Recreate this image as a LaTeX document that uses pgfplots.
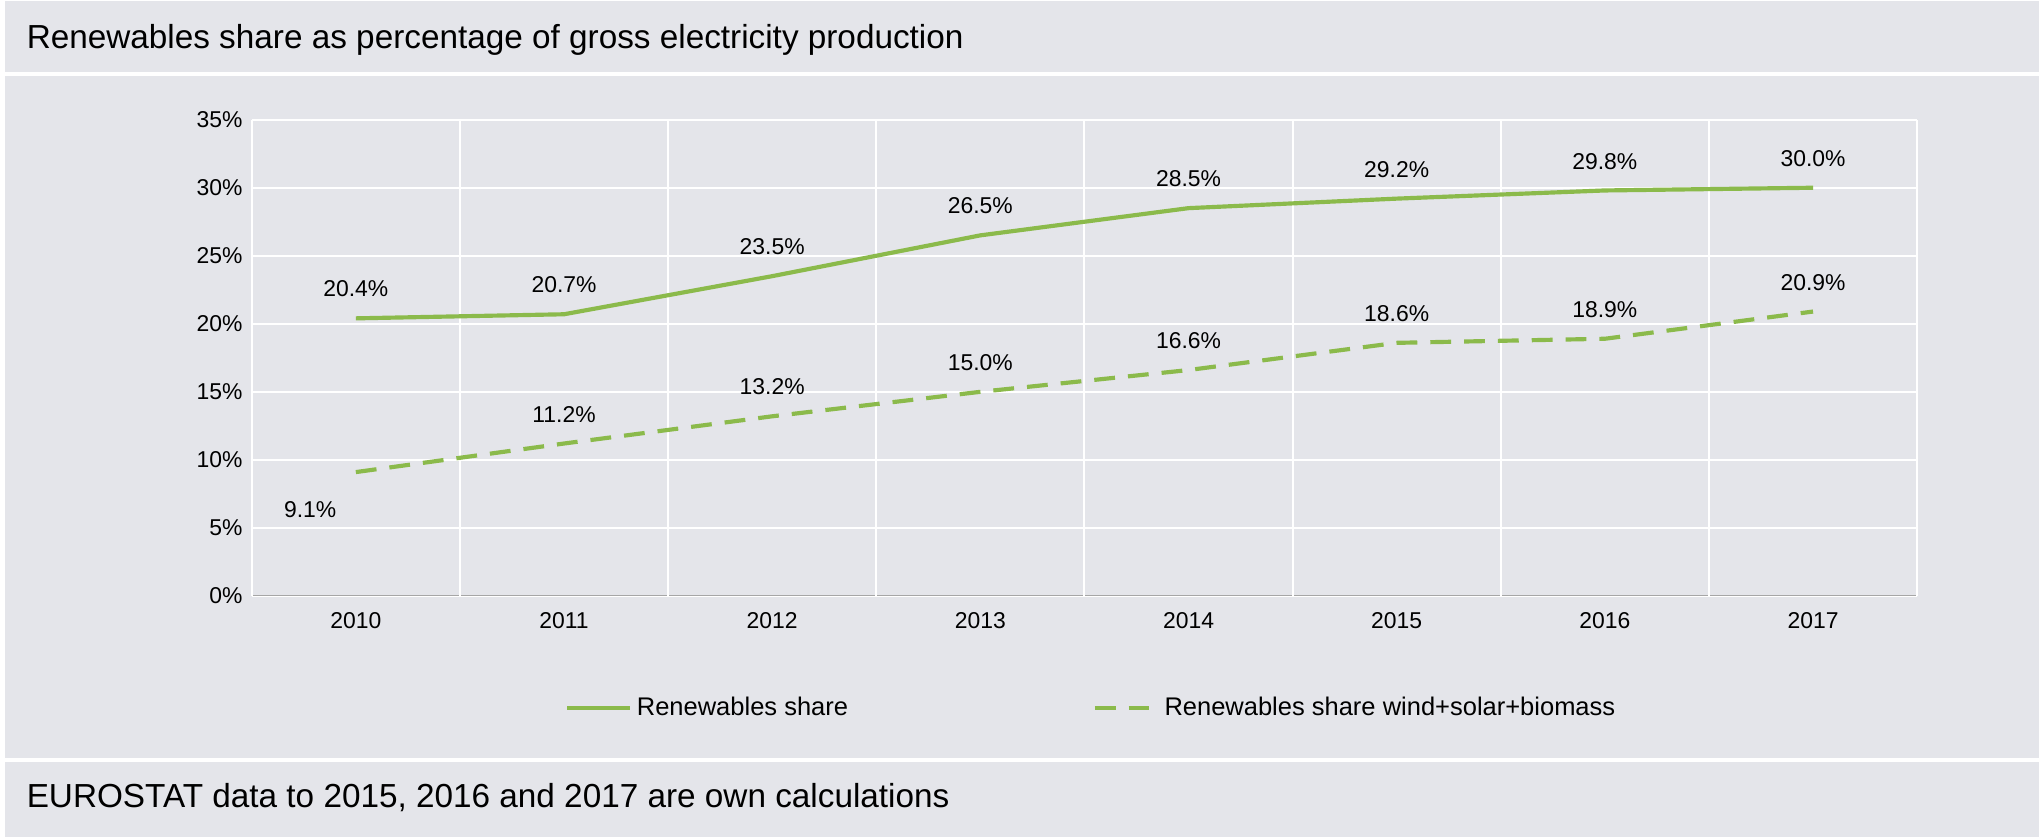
\documentclass[border=0pt]{standalone}
\usepackage{pgfplots}
\pgfplotsset{compat=1.18}
\usepackage{fontspec}
\setmainfont{Liberation Sans}
\definecolor{bg}{HTML}{E4E5EA}
\definecolor{gr}{HTML}{8BBA4B}
\begin{document}
\begin{tikzpicture}
\fill[bg] (0,0) rectangle (784pt,321pt);
\draw[white,line width=1.5pt] (0,293pt) -- (784pt,293pt);
\draw[white,line width=1.5pt] (0,29.5pt) -- (784pt,29.5pt);
\draw[white,line width=1pt] (0.5pt,0) -- (0.5pt,321pt);
\draw[white,line width=1pt] (783.5pt,0) -- (783.5pt,321pt);
\node[anchor=west,font=\fontsize{12.8}{14}\selectfont] at (6pt,306pt) {Renewables share as percentage of gross electricity production};
\node[anchor=west,font=\fontsize{12.8}{14}\selectfont] at (6pt,15pt) {EUROSTAT data to 2015, 2016 and 2017 are own calculations};
\begin{axis}[at={(96pt,92.5pt)},anchor=south west,scale only axis,
 width=640pt,height=183pt,
 xmin=-0.5,xmax=7.5,ymin=0,ymax=35,
 xtick={0,...,7},xticklabels={2010,2011,2012,2013,2014,2015,2016,2017},
 ytick={0,5,...,35},yticklabel={\pgfmathprintnumber{\tick}\%},
 /pgf/number format/assume math mode=true,
 ticklabel style={font=\fontsize{8.8}{10}\selectfont},
 extra x ticks={-0.5,0.5,...,7.5},extra x tick labels={},
 extra x tick style={grid=major,major grid style={white,line width=0.8pt},tick style={draw=none}},
 ymajorgrids,major grid style={white,line width=0.8pt},
 axis line style={draw=none},
 axis x line*=bottom,
 tick style={draw=none},
 x axis line style={draw=gray!70},
 xticklabel style={yshift=-3pt},
 legend style={at={(0.505,-0.235)},anchor=center,legend columns=2,draw=none,fill=none,
   font=\fontsize{9.8}{11}\selectfont,
   /tikz/every even column/.append style={column sep=92pt}},
 legend image code/.code={\draw[#1] (0pt,0pt) -- (24pt,0pt);},
 nodes near coords,point meta=explicit symbolic,
 every node near coord/.append style={font=\fontsize{8.8}{10}\selectfont,black,yshift=4pt},
]
\addplot[gr,line width=1.6pt,mark=none] coordinates {(0,20.4)[20.4\%] (1,20.7)[20.7\%] (2,23.5)[23.5\%] (3,26.5)[26.5\%] (4,28.5)[28.5\%] (5,29.2)[29.2\%] (6,29.8)[29.8\%] (7,30.0)[30.0\%]};
\addlegendentry{Renewables share}
\addplot[gr,line width=1.6pt,dash pattern=on 8pt off 5pt,mark=none] coordinates {(0,9.1)[] (1,11.2)[11.2\%] (2,13.2)[13.2\%] (3,15.0)[15.0\%] (4,16.6)[16.6\%] (5,18.6)[18.6\%] (6,18.9)[18.9\%] (7,20.9)[20.9\%]};
\addlegendentry{Renewables share wind+solar+biomass}
\node[font=\fontsize{8.8}{10}\selectfont,anchor=north east] at (axis cs:-0.05,7.6) {9.1\%};
\end{axis}
\end{tikzpicture}
\end{document}
